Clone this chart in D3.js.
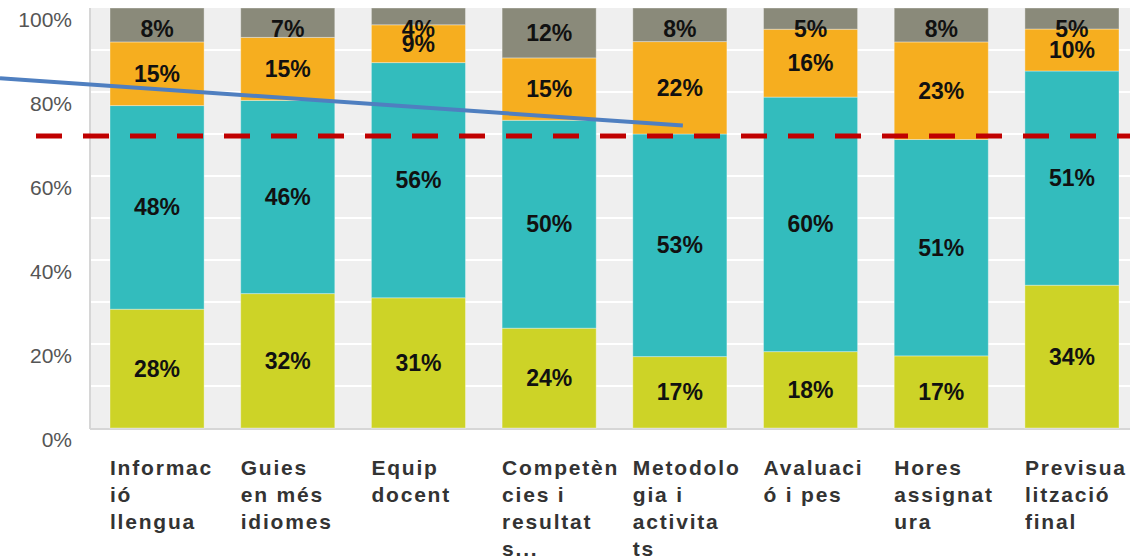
<!DOCTYPE html>
<html>
<head>
<meta charset="utf-8">
<script src="https://cdn.jsdelivr.net/npm/d3@7"></script>
<style>
  body { margin: 0; background: #fff; }
  svg { display: block; }
  text { font-family: "Liberation Sans", Arial, sans-serif; }
</style>
</head>
<body>
<svg id="chart" width="1130" height="559"></svg>
<script>
// categories (wrapped as in the original, one entry per line)
const categories = [
    "Informació llengua",
    "Guies en més idiomes",
    "Equip docent",
    "Competències i resultats...",
    "Metodologia i activitats",
    "Avaluació i pes",
    "Hores assignatura",
    "Previsualització final"
];
const categoryLines = [
    ["Informac", "ió", "llengua"],
    ["Guies", "en més", "idiomes"],
    ["Equip", "docent"],
    ["Competèn", "cies i", "resultat", "s..."],
    ["Metodolo", "gia i", "activita", "ts"],
    ["Avaluaci", "ó i pes"],
    ["Hores", "assignat", "ura"],
    ["Previsua", "lització", "final"]
];

// series, bottom to top (percent)
const seriesKeys = ["s1", "s2", "s3", "s4"];
const s1 = [28, 32, 31, 24, 17, 18, 17, 34];
const s2 = [48, 46, 56, 50, 53, 60, 51, 51];
const s3 = [15, 15, 9, 15, 22, 16, 23, 10];
const s4 = [8, 7, 4, 12, 8, 5, 8, 5];
const seriesColors = ["#cdd327", "#33bcbd", "#f6ae1f", "#8a8a7a"];

const yTicks = [0, 0.2, 0.4, 0.6, 0.8, 1];
const threshold = 0.695;           // red dashed reference line
const arrowFrom = 0.833;           // annotation line, value at chart's left edge
const arrowTo = {cat: "Metodologia i activitats", value: 0.72};

const rows = categories.map((c, i) => ({cat: c, s1: s1[i], s2: s2[i], s3: s3[i], s4: s4[i]}));

const svg = d3.select("#chart");
const W = 1130;
const margin = {left: 90, top: 8, bottom: 131};
const plotBottom = 559 - margin.bottom;

const x = d3.scaleBand()
    .domain(categories)
    .range([margin.left, 1139])
    .paddingInner(0.28)
    .paddingOuter(0.153);

const y = d3.scaleLinear()
    .domain([0, 1])
    .range([plotBottom, margin.top]);

const stack = d3.stack().keys(seriesKeys).offset(d3.stackOffsetExpand);
const stacked = stack(rows);

// plot background
svg.append("rect")
    .attr("x", margin.left)
    .attr("y", margin.top)
    .attr("width", W - margin.left)
    .attr("height", plotBottom - margin.top)
    .attr("fill", "#efefef");

// white grid every 10%
svg.append("g")
    .selectAll("line")
    .data(d3.range(1, 10).map(d => d / 10))
    .enter()
    .append("line")
    .attr("x1", margin.left)
    .attr("x2", W)
    .attr("y1", d => y(d))
    .attr("y2", d => y(d))
    .attr("stroke", "#fff")
    .attr("stroke-width", 2);

// axis lines
svg.append("line")
    .attr("x1", margin.left).attr("x2", margin.left)
    .attr("y1", margin.top).attr("y2", plotBottom + 1)
    .attr("stroke", "#d6d6d6").attr("stroke-width", 2);
svg.append("line")
    .attr("x1", margin.left).attr("x2", W)
    .attr("y1", plotBottom + 1).attr("y2", plotBottom + 1)
    .attr("stroke", "#d6d6d6").attr("stroke-width", 2);

// y tick labels
svg.append("g")
    .selectAll("text")
    .data(yTicks)
    .enter()
    .append("text")
    .attr("x", 72)
    .attr("y", d => y(d) + 12)
    .attr("dy", "0.35em")
    .attr("text-anchor", "end")
    .attr("font-size", 21)
    .attr("fill", "#555")
    .text(d => d3.format(".0%")(d));

// bars
const layers = svg.append("g")
    .selectAll("g")
    .data(stacked)
    .enter()
    .append("g")
    .attr("fill", (d, i) => seriesColors[i]);

layers.selectAll("rect")
    .data(d => d)
    .enter()
    .append("rect")
    .attr("x", d => x(d.data.cat))
    .attr("width", x.bandwidth())
    .attr("y", d => y(d[1]))
    .attr("height", d => y(d[0]) - y(d[1]))
    .attr("stroke", "rgba(255,255,255,0.35)")
    .attr("stroke-width", 1);

// value labels (the top ones are kept inside the plot, as in the original)
const labelMinY = y(1) + 21;
stacked.forEach(layer => {
    svg.append("g")
        .selectAll("text")
        .data(layer)
        .enter()
        .append("text")
        .attr("x", d => x(d.data.cat) + x.bandwidth() / 2)
        .attr("y", d => Math.max((y(d[0]) + y(d[1])) / 2, labelMinY))
        .attr("dy", "0.35em")
        .attr("text-anchor", "middle")
        .attr("font-size", 23)
        .attr("font-weight", "bold")
        .attr("fill", "#111")
        .text(d => d.data[layer.key] + "%");
});

// category labels
const catLabels = svg.append("g")
    .selectAll("text")
    .data(categories)
    .enter()
    .append("text")
    .attr("x", d => x(d))
    .attr("y", 468)
    .attr("font-size", 21)
    .attr("font-weight", "bold")
    .attr("fill", "#333")
    .attr("letter-spacing", 1.8);

catLabels.selectAll("tspan")
    .data((d, i) => categoryLines[i])
    .enter()
    .append("tspan")
    .attr("x", function() { return this.parentNode.getAttribute("x"); })
    .attr("dy", (d, i) => i === 0 ? "0.35em" : 27)
    .text(d => d);

// red dashed threshold
svg.append("line")
    .attr("x1", 36)
    .attr("x2", W)
    .attr("y1", y(threshold))
    .attr("y2", y(threshold))
    .attr("stroke", "#c00000")
    .attr("stroke-width", 5)
    .attr("stroke-dasharray", "26,21");

// blue annotation line
svg.append("line")
    .attr("x1", 0)
    .attr("y1", y(arrowFrom))
    .attr("x2", x(arrowTo.cat) + x.bandwidth() / 2 + 3)
    .attr("y2", y(arrowTo.value))
    .attr("stroke", "#4f7fc0")
    .attr("stroke-width", 4);
</script>
</body>
</html>
